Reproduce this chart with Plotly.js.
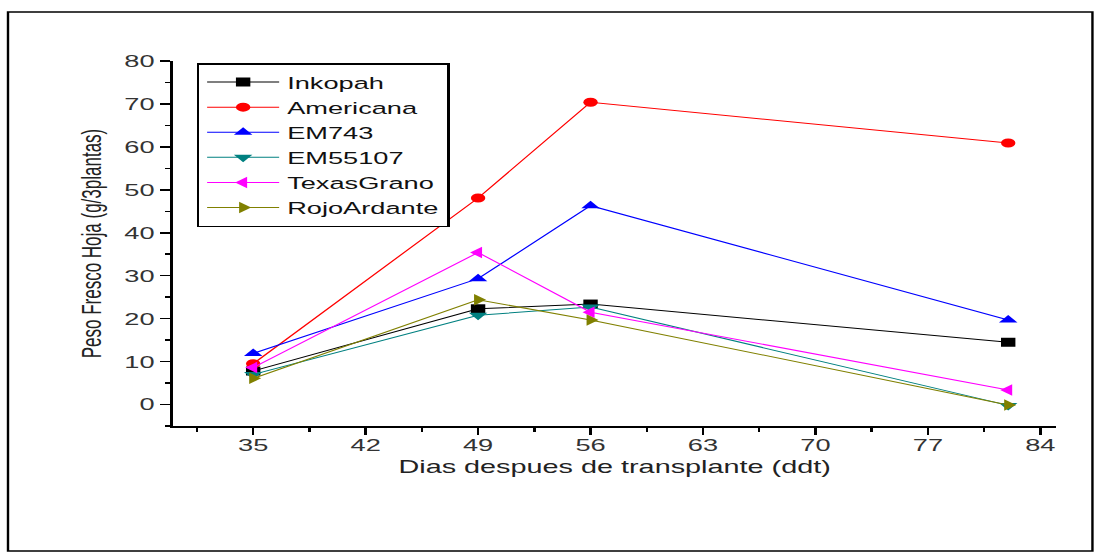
<!DOCTYPE html>
<html>
<head>
<meta charset="utf-8">
<script src="https://cdn.plot.ly/plotly-3.0.1.min.js"></script>
<style>
  html, body { margin: 0; padding: 0; background: #fff; overflow: hidden; width: 1098px; height: 558px; }
  #chart { width: 686px; height: 558px; transform: scaleX(1.6006); transform-origin: 0 0; }
</style>
</head>
<body>
<div id="chart"></div>
<script>
// Data
const days = [35, 49, 56, 82];
const seriesNames = ["Inkopah", "Americana", "EM743", "EM55107", "TexasGrano", "RojoArdante"];
const inkopah     = [7.8, 22.3, 23.4, 14.5];
const americana   = [9.5, 48.1, 70.4, 60.9];
const em743       = [11.9, 29.3, 46.3, 19.7];
const em55107     = [7.0, 20.8, 22.7, -0.2];
const texasGrano  = [8.6, 35.4, 21.5, 3.4];
const rojoArdante = [6.1, 24.4, 19.7, -0.1];
const xTickVals = [35, 42, 49, 56, 63, 70, 77, 84];
const yTickVals = [0, 10, 20, 30, 40, 50, 60, 70, 80];

const seriesValues = [inkopah, americana, em743, em55107, texasGrano, rojoArdante];
const colors  = ["#000000", "#ff0000", "#0000ff", "#008080", "#ff00ff", "#808000"];
const symbols = ["square", "circle", "triangle-up", "triangle-down", "triangle-left", "triangle-right"];
const sizes   = [9, 9, 10, 10, 10, 10];

const FONT = "Arial, 'Liberation Sans', sans-serif";

const traces = seriesNames.map((name, i) => ({
  type: "scatter",
  mode: "lines+markers",
  name: name,
  x: days,
  y: seriesValues[i],
  line: { color: colors[i], width: 1 },
  marker: { color: colors[i], symbol: symbols[i], size: sizes[i], line: { width: 0 } }
}));

const layout = {
  width: 686,
  height: 558,
  margin: { l: 108, r: 26, t: 61, b: 132, pad: 0 },
  paper_bgcolor: "#ffffff",
  plot_bgcolor: "#ffffff",
  showlegend: true,
  font: { family: FONT, color: "#222" },
  legend: {
    x: 0.027, y: 0.9945, xanchor: "left", yanchor: "top",
    bgcolor: "#ffffff", bordercolor: "#000000", borderwidth: 1.5,
    font: { family: FONT, size: 17, color: "#111" },
    itemwidth: 45,
    tracegroupgap: 0
  },
  xaxis: {
    range: [30, 85],
    tickmode: "array",
    tickvals: xTickVals,
    ticktext: xTickVals.map(String),
    ticks: "outside", ticklen: 7, tickwidth: 1.5, tickcolor: "#000",
    ticklabelstandoff: -4,
    showline: true, linecolor: "#000", linewidth: 2,
    showgrid: false, zeroline: false,
    tickfont: { family: FONT, size: 17, color: "#333" },
    minor: { dtick: 3.5, tick0: 0, ticks: "outside", ticklen: 4, tickwidth: 1.5, tickcolor: "#000", showgrid: false },
    title: { text: "Dias despues de transplante (ddt)", font: { family: FONT, size: 18, color: "#222" }, standoff: 6 },
    automargin: false
  },
  yaxis: {
    range: [-5, 80],
    tickmode: "array",
    tickvals: yTickVals,
    ticktext: yTickVals.map(String),
    ticks: "outside", ticklen: 6, tickwidth: 1.5, tickcolor: "#000",
    showline: true, linecolor: "#000", linewidth: 2,
    showgrid: false, zeroline: false,
    tickfont: { family: FONT, size: 17, color: "#333" },
    minor: { dtick: 5, tick0: 0, ticks: "outside", ticklen: 3, tickwidth: 1.5, tickcolor: "#000", showgrid: false },
    title: { text: "Peso Fresco Hoja (g/3plantas)", font: { family: FONT, size: 17, color: "#222" } },
    automargin: false
  },
  shapes: [{
    type: "rect", xref: "paper", yref: "paper",
    x0: -0.1866, x1: 1.0408, y0: -0.3425, y1: 1.134,
    line: { color: "#000", width: 1.5 }, fillcolor: "rgba(0,0,0,0)", layer: "below"
  }]
};

Plotly.newPlot("chart", traces, layout, { displayModeBar: false, staticPlot: true });
</script>
</body>
</html>
